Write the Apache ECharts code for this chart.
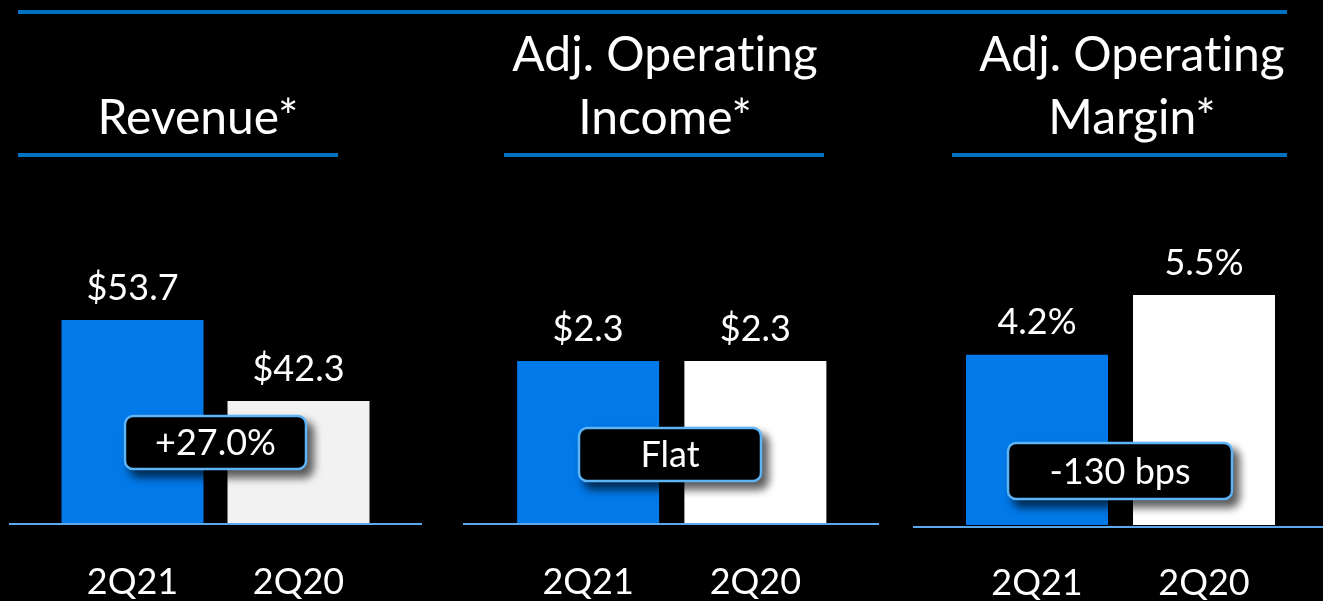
<!DOCTYPE html>
<html>
<head>
<meta charset="utf-8">
<script src="https://cdn.jsdelivr.net/npm/echarts@6/dist/echarts.min.js"></script>
<style>
    html, body {margin: 0; padding: 0; background: #000;}
    #chart {width: 1323px; height: 601px;}
</style>
</head>
<body>
<div id="chart"></div>
<script>
// data
const categories = ['2Q21', '2Q20'];
const revenue = [53.7, 42.3];
const adjOpIncome = [2.3, 2.3];
const adjOpMargin = [4.2, 5.5];
const panelTitles = ['Revenue*', 'Adj. Operating\nIncome*', 'Adj. Operating\nMargin*'];
const changeLabels = ['+27.0%', 'Flat', '-130 bps'];

const FONT = 'Lato';
const BLUE = '#0179E8';
const LINE_BLUE = '#0070C0';
const AXIS_BLUE = '#5AA8EE';

// panel layout: grid box around the two bars, y range (slide does not start at zero everywhere)
const panels = [
    {data: revenue, fmt: v => '$' + v.toFixed(1), left: 49.5, width: 332, top: 320, bottom: 77, min: 25, max: 53.7, second: '#F2F2F2'},
    {data: adjOpIncome, fmt: v => '$' + v.toFixed(1), left: 504.5, width: 334.5, top: 361, bottom: 77, min: 0, max: 2.3, second: '#FFFFFF'},
    {data: adjOpMargin, fmt: v => v.toFixed(1) + '%', left: 953.5, width: 334, top: 295, bottom: 74, min: 0.5, max: 5.5, second: '#FFFFFF'}
];

const titleSpots = [{x: 198, top: 87}, {x: 665, top: 24}, {x: 1132, top: 24}];
const underlines = [[18, 338], [504, 824], [952, 1287]];
const baselines = [[9, 422, 524], [463, 879, 524], [913, 1323, 527]];
const callouts = [
    {x: 125, y: 416, w: 181, h: 53},
    {x: 579, y: 428, w: 182, h: 53},
    {x: 1008, y: 443, w: 224, h: 56}
];

var myChart = echarts.init(document.getElementById('chart'));

var graphics = [];
graphics.push({
    type: 'line', shape: {x1: 18, y1: 12, x2: 1287, y2: 12},
    style: {stroke: LINE_BLUE, lineWidth: 4}
});
underlines.forEach(function (u) {
    graphics.push({
        type: 'line', shape: {x1: u[0], y1: 155, x2: u[1], y2: 155},
        style: {stroke: LINE_BLUE, lineWidth: 4}
    });
});
baselines.forEach(function (b) {
    graphics.push({
        type: 'line', z: 10, shape: {x1: b[0], y1: b[2], x2: b[1], y2: b[2]},
        style: {stroke: AXIS_BLUE, lineWidth: 2}
    });
});
callouts.forEach(function (c, i) {
    graphics.push({
        type: 'rect', z: 100,
        shape: {x: c.x, y: c.y, width: c.w, height: c.h, r: 8},
        style: {
            fill: '#000', stroke: '#5DB4F6', lineWidth: 2.5,
            shadowBlur: 8, shadowOffsetX: 6, shadowOffsetY: 7, shadowColor: 'rgba(0,0,0,0.65)'
        }
    });
    graphics.push({
        type: 'text', z: 101,
        x: c.x + c.w / 2, y: c.y + c.h / 2 + 1,
        style: {
            text: changeLabels[i], fill: '#fff', font: '36px ' + FONT,
            align: 'center', verticalAlign: 'middle'
        }
    });
});

var titleFont = {color: '#fff', fontFamily: FONT, fontWeight: 'normal', fontSize: 48, lineHeight: 63};

var option = {
    backgroundColor: '#000',
    animation: false,
    title: panelTitles.map(function (t, i) {
        return {
            // split "ti" into two text runs so Lato does not draw its ligature
            text: t.replace('ting', 't{s|ing}'),
            left: titleSpots[i].x,
            top: titleSpots[i].top,
            textAlign: 'center',
            padding: 0,
            textStyle: Object.assign({rich: {s: Object.assign({}, titleFont)}}, titleFont)
        };
    }),
    grid: panels.map(function (p) {
        return {left: p.left, width: p.width, top: p.top, bottom: p.bottom, containLabel: false};
    }),
    xAxis: panels.map(function (p, i) {
        return {
            type: 'category', gridIndex: i, data: categories,
            axisLine: {show: false}, axisTick: {show: false}, splitLine: {show: false},
            axisLabel: {color: '#fff', fontFamily: FONT, fontSize: 36, margin: 40}
        };
    }),
    yAxis: panels.map(function (p, i) {
        return {type: 'value', gridIndex: i, min: p.min, max: p.max, show: false, splitLine: {show: false}};
    }),
    series: panels.map(function (p, i) {
        return {
            type: 'bar', xAxisIndex: i, yAxisIndex: i, barWidth: 142,
            data: p.data.map(function (v, j) {
                return {value: v, itemStyle: {color: j === 0 ? BLUE : p.second}};
            }),
            label: {
                show: true, position: 'top', distance: 14,
                color: '#fff', fontFamily: FONT, fontSize: 36,
                formatter: function (d) { return p.fmt(d.value); }
            }
        };
    }),
    graphic: {elements: graphics}
};

myChart.setOption(option);
</script>
</body>
</html>
